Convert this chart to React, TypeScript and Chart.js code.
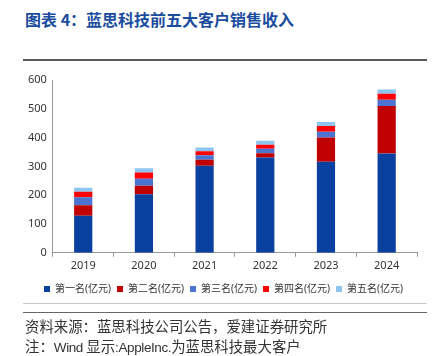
import React, { useEffect, useRef } from "react";
import { Chart, registerables } from "chart.js";

Chart.register(...registerables);

const years = ["2019", "2020", "2021", "2022", "2023", "2024"];
const first = [129, 203, 302, 331, 316, 345];
const second = [36, 30, 21, 15, 84, 165];
const third = [28, 24, 16, 15, 20, 21];
const fourth = [19, 22, 14, 14, 20, 21];
const fifth = [14, 15, 13, 14, 14, 15];
const seriesNames = ["第一名(亿元)", "第二名(亿元)", "第三名(亿元)", "第四名(亿元)", "第五名(亿元)"];
const seriesColors = ["#0a40a0", "#c00000", "#4a74cf", "#ff0000", "#8ec5ee"];
const yTicks = [0, 100, 200, 300, 400, 500, 600];

const FONT = "'Noto Sans', 'Noto Sans CJK SC', sans-serif";

const legendShift = {
  id: "legendShift",
  afterLayout(chart: any) {
    const l = chart.legend;
    if (l) {
      l.left += 4;
      l.right += 4;
    }
  },
};

export default function App() {
  const ref = useRef<HTMLCanvasElement>(null);
  useEffect(() => {
    if (!ref.current) return;
    const values = [first, second, third, fourth, fifth];
    const chart = new Chart(ref.current, {
      type: "bar",
      data: {
        labels: years,
        datasets: values.map((v, i) => ({
          label: seriesNames[i],
          data: v,
          backgroundColor: seriesColors[i],
          borderWidth: 0,
          categoryPercentage: 1,
          barPercentage: 0.3,
        })),
      },
      plugins: [legendShift],
      options: {
        animation: false,
        responsive: false,
        maintainAspectRatio: false,
        layout: { padding: { top: 18, right: 17, left: 22, bottom: 0 } },
        plugins: {
          tooltip: { enabled: false },
          legend: {
            position: "bottom",
            labels: {
              boxWidth: 6,
              boxHeight: 6,
              padding: 6,
              color: "#333",
              font: { family: FONT, size: 10 },
            },
          },
        },
        scales: {
          x: {
            stacked: true,
            afterFit: (scale: any) => {
              scale.height += 4;
            },
            grid: {
              display: true,
              drawOnChartArea: false,
              drawTicks: true,
              tickLength: 4,
              offset: true,
              color: "#999",
            },
            border: { color: "#999", width: 1 },
            ticks: { color: "#333", font: { family: FONT, size: 11 }, padding: 2 },
          },
          y: {
            stacked: true,
            min: 0,
            max: 600,
            afterBuildTicks: (axis: any) => {
              axis.ticks = yTicks.map((v) => ({ value: v }));
            },
            grid: { display: false, drawTicks: false },
            border: { color: "#999", width: 1 },
            ticks: { color: "#333", font: { family: FONT, size: 11 }, padding: 6 },
          },
        },
      },
    });
    return () => chart.destroy();
  }, []);

  return (
    <div
      style={{
        position: "fixed",
        left: 0,
        top: 0,
        width: 434,
        height: 356,
        background: "#fff",
        fontFamily: FONT,
      }}
    >
      <div
        style={{
          position: "absolute",
          left: 25,
          top: 9,
          fontSize: 16,
          fontWeight: "bold",
          color: "#1a4c9e",
          fontFamily: "'Noto Sans CJK SC', sans-serif",
          lineHeight: "20px",
          whiteSpace: "nowrap",
        }}
      >
        图表 4：蓝思科技前五大客户销售收入
      </div>
      <div style={{ position: "absolute", left: 23, top: 59, width: 404, height: 2, background: "#5a5a5a" }} />
      <canvas
        ref={ref}
        width={434}
        height={242}
        style={{ position: "absolute", left: 0, top: 62, width: 434, height: 242 }}
      />
      <div style={{ position: "absolute", left: 23, top: 303, width: 404, height: 1, background: "#c8c8c8" }} />
      <div style={{ position: "absolute", left: 23, top: 312, width: 404, height: 1, background: "#666" }} />
      <div
        style={{
          position: "absolute",
          left: 25,
          top: 316,
          fontSize: 14.4,
          color: "#333",
          lineHeight: "20px",
          whiteSpace: "nowrap",
          fontFamily: "'Noto Sans CJK SC', sans-serif",
        }}
      >
        资料来源：蓝思科技公司公告，爱建证券研究所
        <br />
        注：
        <span style={{ fontFamily: "'Liberation Sans', sans-serif", fontSize: 13.5, letterSpacing: -0.4 }}>Wind </span>
        显示
        <span style={{ fontFamily: "'Liberation Sans', sans-serif", fontSize: 13.5, letterSpacing: -0.4 }}>:AppleInc.</span>
        为蓝思科技最大客户
      </div>
    </div>
  );
}
